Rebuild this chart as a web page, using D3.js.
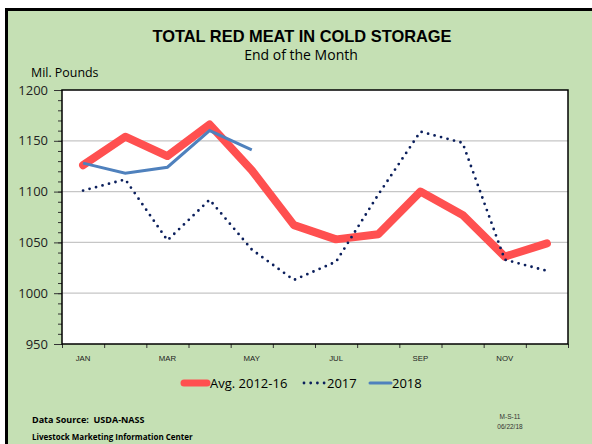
<!DOCTYPE html>
<html lang="en">
<head>
  <meta charset="UTF-8" />
  <title>Total Red Meat in Cold Storage</title>
  <script src="https://d3js.org/d3.v7.min.js"></script>
  <style>
    body {
      margin: 0;
      background: white;
    }
    svg {
      display: block;
    }
    .tick text {
      fill: #222;
    }
  </style>
</head>
<body>

<svg width="592" height="444"></svg>

<script>
  const months = ["JAN", "FEB", "MAR", "APR", "MAY", "JUN", "JUL", "AUG", "SEP", "OCT", "NOV", "DEC"];
  const monthLabels = ["JAN", "MAR", "MAY", "JUL", "SEP", "NOV"];
  const avg1216 = [1126, 1154, 1135, 1166, 1121, 1067, 1053, 1058, 1100, 1077, 1036, 1049];
  const y2017 = [1101, 1112, 1052, 1092, 1043, 1013, 1031, 1097, 1159, 1148, 1033, 1022];
  const y2018 = [1128, 1118, 1124, 1160, 1141];
  const yTicks = [950, 1000, 1050, 1100, 1150, 1200];

  const svg = d3.select("svg");
  const plot = { left: 62, right: 568, top: 90, bottom: 344 };
  const bodyFont = "'Open Sans', sans-serif";

  // green panel with black frame
  svg.append("rect")
    .attr("x", 6.5).attr("y", 9.5)
    .attr("width", 600).attr("height", 450)
    .attr("fill", "#c5e0b4")
    .attr("stroke", "#000")
    .attr("stroke-width", 3);

  // titles
  svg.append("text")
    .attr("x", 302).attr("y", 42)
    .attr("text-anchor", "middle")
    .attr("font-family", "'Liberation Sans', Arial, sans-serif")
    .attr("font-weight", "bold")
    .attr("font-size", 16.4)
    .text("TOTAL RED MEAT IN COLD STORAGE");

  svg.append("text")
    .attr("x", 301).attr("y", 60)
    .attr("text-anchor", "middle")
    .attr("font-family", bodyFont)
    .attr("font-size", 14)
    .text("End of the Month");

  svg.append("text")
    .attr("x", 31).attr("y", 77)
    .attr("font-family", bodyFont)
    .attr("font-size", 12.4)
    .text("Mil. Pounds");

  const x = d3.scaleBand().domain(months).range([plot.left, plot.right]);
  const xEdge = d3.scaleLinear().domain([0, 12]).range([plot.left, plot.right]);
  const y = d3.scaleLinear().domain([950, 1200]).range([plot.bottom, plot.top]);

  // plot background
  svg.append("rect")
    .attr("x", plot.left).attr("y", plot.top)
    .attr("width", plot.right - plot.left).attr("height", plot.bottom - plot.top)
    .attr("fill", "white");

  // gridlines
  svg.append("g")
    .selectAll("line")
    .data(yTicks.slice(1, -1))
    .enter()
    .append("line")
    .attr("x1", plot.left).attr("x2", plot.right)
    .attr("y1", d => y(d)).attr("y2", d => y(d))
    .attr("stroke", "#c6c6c6")
    .attr("stroke-width", 1.3);

  // Y axis minor ticks
  svg.append("g")
    .attr("transform", `translate(${plot.left},0)`)
    .call(d3.axisLeft(y).tickValues(d3.range(950, 1201, 10)).tickSize(4).tickFormat(""))
    .call(g => g.select(".domain").remove())
    .call(g => g.selectAll("line").attr("stroke", "#333"));

  // Y axis major ticks + labels
  svg.append("g")
    .attr("transform", `translate(${plot.left},0)`)
    .call(d3.axisLeft(y).tickValues(yTicks).tickSize(8).tickPadding(6).tickFormat(d3.format("d")))
    .call(g => g.select(".domain").remove())
    .call(g => g.selectAll("line").attr("stroke", "#333"))
    .call(g => g.selectAll("text").attr("font-family", bodyFont).attr("font-size", 13));

  // X axis boundary ticks
  svg.append("g")
    .attr("transform", `translate(0,${plot.bottom})`)
    .call(d3.axisBottom(xEdge).ticks(12).tickSize(4).tickFormat(""))
    .call(g => g.select(".domain").remove())
    .call(g => g.selectAll("line").attr("stroke", "#333"));

  // X axis labels
  svg.append("g")
    .attr("transform", `translate(0,${plot.bottom})`)
    .call(d3.axisBottom(x).tickValues(monthLabels).tickSize(0).tickPadding(11))
    .call(g => g.select(".domain").remove())
    .call(g => g.selectAll("text")
      .attr("font-family", "'Liberation Sans', Arial, sans-serif")
      .attr("font-size", 7.8));

  const line = d3.line()
    .x((d, i) => x(months[i]) + x.bandwidth() / 2)
    .y(d => y(d));

  svg.append("path")
    .datum(avg1216)
    .attr("d", line)
    .attr("fill", "none")
    .attr("stroke", "#ff5050")
    .attr("stroke-width", 8)
    .attr("stroke-linecap", "round")
    .attr("stroke-linejoin", "round");

  svg.append("path")
    .datum(y2017)
    .attr("d", line)
    .attr("fill", "none")
    .attr("stroke", "#0b1f5c")
    .attr("stroke-width", 2.8)
    .attr("stroke-dasharray", "0 6.7")
    .attr("stroke-linecap", "round");

  svg.append("path")
    .datum(y2018)
    .attr("d", line)
    .attr("fill", "none")
    .attr("stroke", "#4f81bd")
    .attr("stroke-width", 3);

  // plot frame
  svg.append("rect")
    .attr("x", plot.left).attr("y", plot.top)
    .attr("width", plot.right - plot.left).attr("height", plot.bottom - plot.top)
    .attr("fill", "none")
    .attr("stroke", "#000")
    .attr("stroke-width", 1.5);

  // legend
  const legend = [
    { name: "Avg. 2012-16", x0: 184, x1: 207, tx: 210, color: "#ff5050", width: 7, dash: null },
    { name: "2017", x0: 304, x1: 325, tx: 327, color: "#0b1f5c", width: 2.8, dash: "0 6.7" },
    { name: "2018", x0: 370, x1: 391, tx: 392, color: "#4f81bd", width: 3, dash: null }
  ];
  const lg = svg.append("g");
  lg.selectAll("line")
    .data(legend)
    .enter()
    .append("line")
    .attr("x1", d => d.x0).attr("x2", d => d.x1)
    .attr("y1", 383).attr("y2", 383)
    .attr("stroke", d => d.color)
    .attr("stroke-width", d => d.width)
    .attr("stroke-linecap", "round")
    .attr("stroke-dasharray", d => d.dash);
  lg.selectAll("text")
    .data(legend)
    .enter()
    .append("text")
    .attr("x", d => d.tx).attr("y", 388)
    .attr("font-family", bodyFont)
    .attr("font-size", 13)
    .text(d => d.name);

  // footer
  svg.append("text")
    .attr("x", 32).attr("y", 423)
    .attr("font-family", bodyFont)
    .attr("font-weight", "bold")
    .attr("font-size", 9)
    .attr("xml:space", "preserve")
    .style("white-space", "pre")
    .text("Data Source:  USDA-NASS");

  svg.append("text")
    .attr("x", 32).attr("y", 440)
    .attr("font-family", bodyFont)
    .attr("font-weight", "bold")
    .attr("font-size", 8)
    .text("Livestock Marketing Information Center");

  svg.append("text")
    .attr("x", 510).attr("y", 419)
    .attr("text-anchor", "middle")
    .attr("font-family", "'Liberation Sans', Arial, sans-serif")
    .attr("font-size", 6.5)
    .attr("fill", "#333")
    .text("M-S-11");

  svg.append("text")
    .attr("x", 510).attr("y", 429)
    .attr("text-anchor", "middle")
    .attr("font-family", "'Liberation Sans', Arial, sans-serif")
    .attr("font-size", 6.5)
    .attr("fill", "#333")
    .text("06/22/18");
</script>

</body>
</html>
